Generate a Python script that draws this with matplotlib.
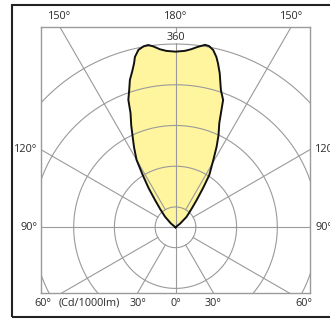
import numpy as np
import matplotlib

matplotlib.use("Agg")
import matplotlib.pyplot as plt  # noqa: E402
from matplotlib.patches import Rectangle  # noqa: E402

# angle away from 180 deg (beam axis) and intensity in cd/1000lm
offset_left = [0, 3, 5, 7, 8.5, 10, 11.8, 13.4, 14.2, 15.5, 17.2, 18.6, 20.3,
               21.5, 23.5, 25.3, 27.5, 30, 32.1, 34.5, 36.9, 40, 44.7, 50, 60]
value_left = [345, 347, 351, 358, 362, 361, 356, 344, 332, 318, 303, 285, 267,
              241, 218, 197, 176, 153, 121, 93, 67, 47, 29, 12, 0]
offset_right = [0, 3, 5, 7, 9.2, 10.5, 12, 13.5, 14.5, 16, 18.3, 20.5, 22.8,
                25, 27, 29.3, 32.9, 35, 37.8, 41, 46.6, 51, 60]
value_right = [345, 347, 351, 357, 363, 362, 356, 344, 333, 315, 284, 267, 222,
               200, 178, 152, 122, 95, 68, 48, 30, 12, 0]

rings = [40, 120, 200, 280, 360]
spoke_angles = [30, 60, 120, 150]
ring_label = "360"
top_labels = ["150°", "180°", "150°"]
side_labels = ["120°", "90°"]
bottom_labels = ["60°", "(Cd/1000lm)", "30°", "0°", "30°", "60°"]

grid_col = "#9a9a9a"
text_col = "#2a2a2a"
plt.rcParams["font.family"] = ["Open Sans", "DejaVu Sans"]

fig = plt.figure(figsize=(3.3, 3.2), dpi=100)
fig.patches.append(Rectangle((11.5 / 330, 2.7 / 320), 1.3, 312 / 320, transform=fig.transFigure,
                             fill=False, edgecolor="#222222", linewidth=1.5))
ax = fig.add_axes([41 / 330, 27 / 320, 269 / 330, 266.3 / 320])
xmax, ymin, ymax = 264.2, -129, 394
ax.set_xlim(-xmax, xmax)
ax.set_ylim(ymin, ymax)
ax.set_aspect("equal", adjustable="datalim")
ax.set_xticks([])
ax.set_yticks([])
for s in ax.spines.values():
    s.set_color(grid_col)
    s.set_linewidth(1.0)

# luminous intensity curve (angle measured from nadir)
gl = np.radians(180 - np.array(offset_left))
gr = np.radians(180 - np.array(offset_right))
vl = np.array(value_left)
vr = np.array(value_right)
xs = np.concatenate([-vl[::-1] * np.sin(gl[::-1]), vr * np.sin(gr)])
ys = np.concatenate([-vl[::-1] * np.cos(gl[::-1]), -vr * np.cos(gr)])
ax.fill(xs, ys, color="#fff59e", zorder=1, linewidth=0)

# grid
t = np.linspace(0, 2 * np.pi, 400)
for r in rings:
    ax.plot(r * np.cos(t), r * np.sin(t), color=grid_col, linewidth=0.8, zorder=2)
ax.axhline(0, color=grid_col, linewidth=0.8, zorder=2)
ax.axvline(0, color=grid_col, linewidth=0.8, zorder=2)
for a in spoke_angles:
    th = np.radians(a)
    for sgn in (-1, 1):
        ax.plot([sgn * rings[0] * np.sin(th), sgn * 900 * np.sin(th)],
                [-rings[0] * np.cos(th), -900 * np.cos(th)],
                color=grid_col, linewidth=0.8, zorder=2)

ax.plot(xs, ys, color="#111111", linewidth=1.4, zorder=3)

ax.text(0, rings[-1] + 2, ring_label, ha="center", va="bottom", fontsize=7.8,
        color=text_col, zorder=4,
        bbox=dict(facecolor="white", edgecolor="none", pad=0.3))

kw = dict(fontsize=7.8, color=text_col, clip_on=False)
tx = ymax * np.tan(np.radians(30))
for x, lab in zip([-tx, 0, tx], top_labels):
    ax.text(x, ymax + 20, lab, ha="center", va="center", **kw)
for y, lab in zip([xmax * np.tan(np.radians(30)), 0], side_labels):
    ax.text(-xmax - 7, y, lab, ha="right", va="center", **kw)
    ax.text(xmax + 10, y, lab, ha="left", va="center", **kw)
bx = -ymin * np.tan(np.radians(30))
for x, lab in zip([-260, -170, -bx, 0, bx, 253], bottom_labels):
    ax.text(x, ymin - 20, lab, ha="center", va="center", **kw)

fig.savefig("out.png", dpi=100)
plt.close(fig)
